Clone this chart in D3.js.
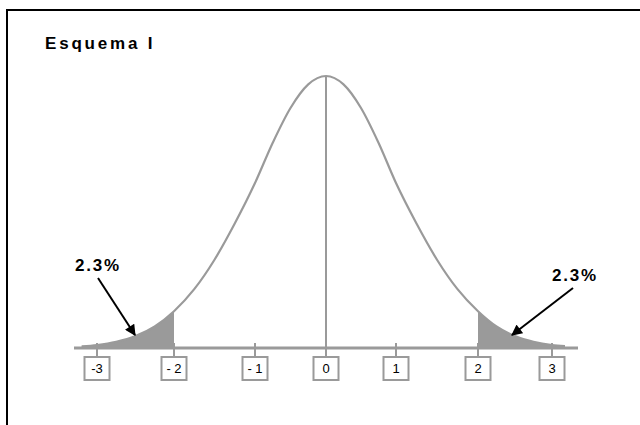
<!DOCTYPE html>
<html>
<head>
<meta charset="utf-8">
<script src="https://cdn.jsdelivr.net/npm/d3@7"></script>
<style>
  body { margin: 0; background: #fff; }
  text { font-family: "Liberation Sans", Arial, sans-serif; }
</style>
</head>
<body>
<div id="chart"></div>
<script>
// Esquema I - curva normale con code al 2.3%

// punti della curva (z, densità)
const curveZ = [-3.2, -3, -2.75, -2.5, -2.25, -2, -1.75, -1.5, -1.25, -1, -0.75, -0.5, -0.25, 0,
                0.25, 0.5, 0.75, 1, 1.25, 1.5, 1.75, 2, 2.25, 2.5, 2.75, 3, 3.15];
const curveY = [0.0024, 0.0044, 0.0091, 0.0175, 0.0317, 0.054, 0.0863, 0.1295, 0.1826, 0.242, 0.3011, 0.3521, 0.3867, 0.399,
                0.3867, 0.3521, 0.3011, 0.242, 0.1826, 0.1295, 0.0863, 0.054, 0.0317, 0.0175, 0.0091, 0.0044, 0.0028];

const tickValues = [-3, -2, -1, 0, 1, 2, 3];
const tickLabels = ['-3', '- 2', '- 1', '0', '1', '2', '3'];
const axisDomain = [-3.3, 3.3];
const tailCut = 2;
const tailLabel = '2.3%';

const W = 640, H = 425;
const grey = '#9a9a9a';

const svg = d3.select('#chart').append('svg')
    .attr('width', W)
    .attr('height', H);

// cornice
svg.append('rect')
    .attr('x', 7).attr('y', 10)
    .attr('width', W + 20).attr('height', H + 20)
    .attr('fill', 'none')
    .attr('stroke', '#000')
    .attr('stroke-width', 2);

svg.append('text')
    .attr('x', 45).attr('y', 49)
    .attr('font-size', 17)
    .attr('font-weight', 'bold')
    .attr('letter-spacing', 2.8)
    .text('Esquema I');

// Scale (spaziatura dei tick non uniforme come nell'originale)
const x = d3.scaleLinear()
    .domain([-3.3, -3, -2, -1, 0, 1, 2, 3, 3.3])
    .range([74, 97, 174, 255, 326, 396, 478, 552, 578]);
const y = d3.scaleLinear().domain([0, 0.399]).range([348, 76]);

const pts = curveZ.map((z, i) => ({ z, d: curveY[i] }));

const area = d3.area()
    .x(d => x(d.z))
    .y0(y(0))
    .y1(d => y(d.d))
    .curve(d3.curveMonotoneX);

const line = d3.line()
    .x(d => x(d.z))
    .y(d => y(d.d))
    .curve(d3.curveMonotoneX);

// code ombreggiate
svg.append('path')
    .datum(pts.filter(d => d.z <= -tailCut))
    .attr('d', area)
    .attr('fill', grey);

svg.append('path')
    .datum(pts.filter(d => d.z >= tailCut))
    .attr('d', area)
    .attr('fill', grey);

// asse
svg.append('line')
    .attr('x1', x(axisDomain[0])).attr('x2', x(axisDomain[1]))
    .attr('y1', y(0)).attr('y2', y(0))
    .attr('stroke', grey)
    .attr('stroke-width', 3);

// linea centrale
svg.append('line')
    .attr('x1', x(0)).attr('x2', x(0))
    .attr('y1', y(0.399)).attr('y2', y(0))
    .attr('stroke', grey)
    .attr('stroke-width', 2);

// curva
svg.append('path')
    .datum(pts)
    .attr('d', line)
    .attr('fill', 'none')
    .attr('stroke', grey)
    .attr('stroke-width', 2.2);

// tick + etichette in box
const tick = svg.selectAll('.tick')
    .data(tickValues)
    .join('g')
    .attr('class', 'tick')
    .attr('transform', d => `translate(${x(d)},0)`);

tick.append('line')
    .attr('y1', y(0) - 5).attr('y2', 357)
    .attr('stroke', grey)
    .attr('stroke-width', 2);

tick.append('rect')
    .attr('x', -12.5).attr('y', 357)
    .attr('width', 25).attr('height', 23)
    .attr('fill', '#fff')
    .attr('stroke', grey)
    .attr('stroke-width', 2);

tick.append('text')
    .attr('y', 373)
    .attr('text-anchor', 'middle')
    .attr('font-size', 13)
    .text((d, i) => tickLabels[i]);

// frecce
const defs = svg.append('defs');
defs.append('marker')
    .attr('id', 'head')
    .attr('viewBox', '0 0 10 10')
    .attr('refX', 9).attr('refY', 5)
    .attr('markerWidth', 6).attr('markerHeight', 5.5)
    .attr('markerUnits', 'strokeWidth')
    .attr('orient', 'auto')
    .append('path')
    .attr('d', 'M0,0 L10,5 L0,10 z')
    .attr('fill', '#000');

const annotations = [
    { tx: 75, ty: 271, x1: 98, y1: 278, x2: 135, y2: 335 },
    { tx: 552, ty: 281, x1: 573, y1: 288, x2: 512, y2: 335 }
];

annotations.forEach(a => {
    svg.append('text')
        .attr('x', a.tx).attr('y', a.ty)
        .attr('font-size', 17)
        .attr('font-weight', 'bold')
        .attr('letter-spacing', 1.8)
        .text(tailLabel);
    svg.append('line')
        .attr('x1', a.x1).attr('y1', a.y1)
        .attr('x2', a.x2).attr('y2', a.y2)
        .attr('stroke', '#000')
        .attr('stroke-width', 2)
        .attr('marker-end', 'url(#head)');
});
</script>
</body>
</html>
